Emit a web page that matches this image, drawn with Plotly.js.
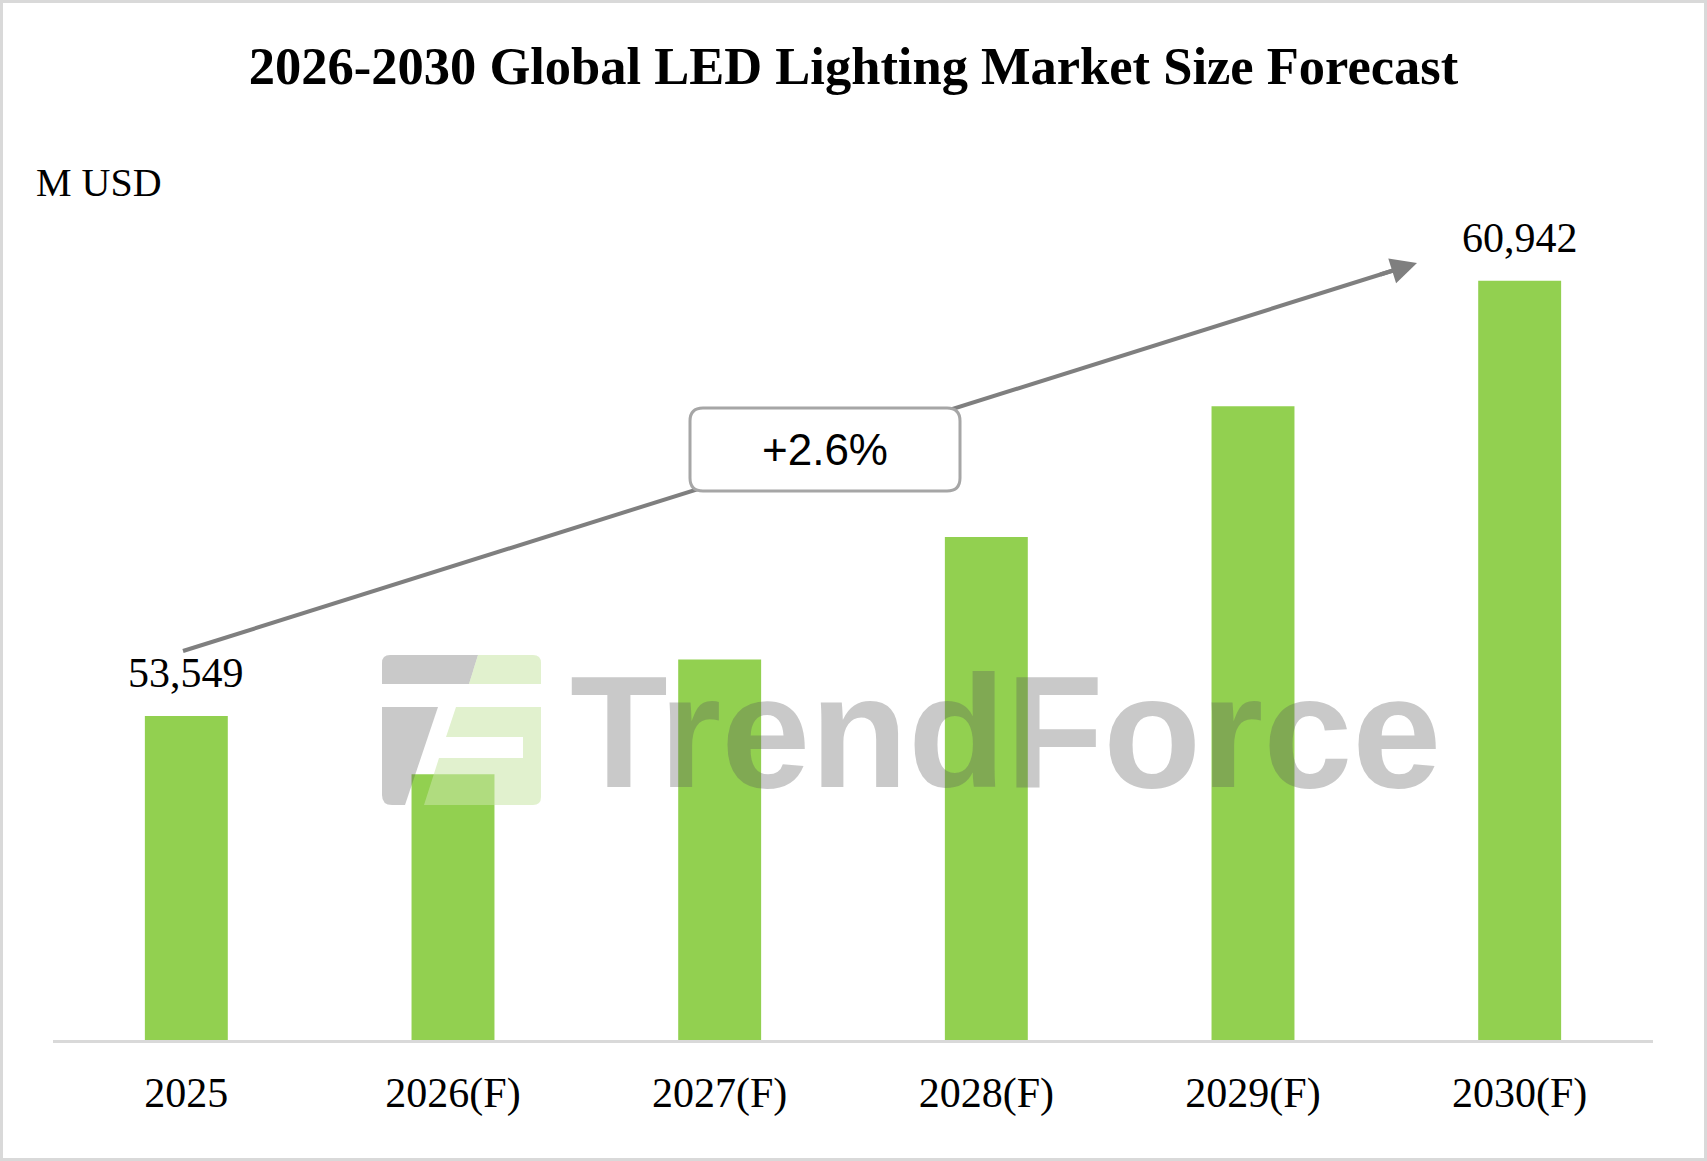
<!DOCTYPE html>
<html>
<head>
<meta charset="utf-8">
<script src="https://cdn.plot.ly/plotly-3.0.1.min.js"></script>
<style>html,body{margin:0;padding:0;background:#fff;}#chart{width:1707px;height:1161px;}</style>
</head>
<body>
<div id="chart"></div>
<script>
// ---- data ----
const categories = ["2025", "2026(F)", "2027(F)", "2028(F)", "2029(F)", "2030(F)"];
const marketSize = [53549, 52560, 54510, 56590, 58810, 60942];
const labelIndex = [0, 5];
const unitLabel = "M USD";
const chartTitle = "2026-2030 Global LED Lighting Market Size Forecast";
const watermark = "TrendForce";

// ---- layout helpers (pixel -> paper) ----
const L = 53, R = 1653, T = 200, B = 1040;
const W = R - L, H = B - T;
const px = x => (x - L) / W;
const py = y => (B - y) / H;
function path(pts) {
  return pts.map(p => {
    if (p[0] === "Z") return "Z";
    const c = [];
    for (let i = 1; i < p.length; i += 2) c.push(px(p[i]) + "," + py(p[i + 1]));
    return p[0] + c.join(" ");
  }).join(" ");
}

const serif = "Liberation Serif, Times New Roman, serif";
const n = marketSize.length;
const cagr = Math.pow(marketSize[n - 1] / marketSize[0], 1 / (n - 1)) - 1;
const cagrText = "+" + (cagr * 100).toFixed(1) + "%";

const trace = {
  type: "bar",
  x: categories,
  y: marketSize,
  marker: { color: "#92d050", line: { width: 0 } },
  hoverinfo: "skip"
};

const grey = "rgba(90,90,90,0.33)";
const lightGreen = "rgba(200,230,165,0.55)";

// arrow geometry (pixels)
const aStart = [183, 651], aTip = [1417, 263];
const dx = aTip[0] - aStart[0], dy = aTip[1] - aStart[1];
const len = Math.hypot(dx, dy);
const ux = dx / len, uy = dy / len;
const lineEnd = [aTip[0] - ux * 20, aTip[1] - uy * 20];

const r = 13; // box corner radius
const bx0 = 690, bx1 = 960, by0 = 408, by1 = 491;

const shapes = [
  { type: "rect", xref: "paper", yref: "paper", x0: px(1.5), x1: px(1705.5), y0: py(1.5), y1: py(1159.5),
    line: { color: "#d9d9d9", width: 3 }, fillcolor: "rgba(0,0,0,0)", layer: "below" },
  { type: "path", xref: "paper", yref: "paper", layer: "above", line: { width: 0 }, fillcolor: grey,
    path: path([["M", 382, 684], ["L", 382, 663], ["Q", 382, 655, 390, 655], ["L", 478, 655], ["L", 469, 684], ["Z"]]) },
  { type: "path", xref: "paper", yref: "paper", layer: "above", line: { width: 0 }, fillcolor: lightGreen,
    path: path([["M", 478, 655], ["L", 533, 655], ["Q", 541, 655, 541, 663], ["L", 541, 684], ["L", 469, 684], ["Z"]]) },
  { type: "path", xref: "paper", yref: "paper", layer: "above", line: { width: 0 }, fillcolor: grey,
    path: path([["M", 382, 707], ["L", 438, 707], ["L", 405, 805], ["L", 392, 805], ["Q", 382, 805, 382, 795], ["Z"]]) },
  { type: "path", xref: "paper", yref: "paper", layer: "above", line: { width: 0 }, fillcolor: lightGreen,
    path: path([["M", 456, 707], ["L", 541, 707], ["L", 541, 797], ["Q", 541, 805, 533, 805], ["L", 424, 805],
                ["L", 439, 758], ["L", 523, 758], ["L", 523, 737], ["L", 446, 737], ["Z"]]) },
  { type: "line", xref: "paper", yref: "paper", layer: "above",
    x0: px(aStart[0]), y0: py(aStart[1]), x1: px(lineEnd[0]), y1: py(lineEnd[1]),
    line: { color: "#7f7f7f", width: 4 } },
  { type: "path", xref: "paper", yref: "paper", layer: "above", fillcolor: "#ffffff",
    line: { color: "#a6a6a6", width: 3 },
    path: path([["M", bx0 + r, by0], ["L", bx1 - r, by0], ["Q", bx1, by0, bx1, by0 + r], ["L", bx1, by1 - r],
                ["Q", bx1, by1, bx1 - r, by1], ["L", bx0 + r, by1], ["Q", bx0, by1, bx0, by1 - r],
                ["L", bx0, by0 + r], ["Q", bx0, by0, bx0 + r, by0], ["Z"]]) }
];

const annotations = [
  { xref: "paper", yref: "paper", x: px(568), y: py(731), xanchor: "left", yanchor: "middle", showarrow: false,
    text: "<b>" + watermark + "</b>", font: { family: "Liberation Sans, Arial, sans-serif", size: 160, color: grey } },
  { xref: "paper", yref: "paper", x: px(aTip[0]), y: py(aTip[1]), ax: -ux * 40, ay: -uy * 40,
    showarrow: true, arrowhead: 2, arrowsize: 1.3, arrowwidth: 4, arrowcolor: "#7f7f7f", text: "" },
  { xref: "paper", yref: "paper", x: px((bx0 + bx1) / 2), y: py((by0 + by1) / 2), xanchor: "center", yanchor: "middle",
    showarrow: false, text: cagrText, font: { family: "Liberation Sans, Arial, sans-serif", size: 44, color: "#000" } },
  { xref: "paper", yref: "paper", x: px(34), y: py(182), xanchor: "left", yanchor: "middle", showarrow: false,
    text: unitLabel, font: { family: serif, size: 40, color: "#000" } }
];
labelIndex.forEach(i => {
  annotations.push({
    x: i, y: marketSize[i], xref: "x", yref: "y", xanchor: "center", yanchor: "bottom",
    yshift: 18, showarrow: false, text: marketSize[i].toLocaleString("en-US"),
    font: { family: serif, size: 42, color: "#000" }
  });
});

const layout = {
  width: 1707, height: 1161,
  margin: { l: L, r: 1707 - R, t: T, b: 1161 - B, pad: 0 },
  paper_bgcolor: "#ffffff", plot_bgcolor: "#ffffff",
  showlegend: false,
  bargap: 0.689,
  title: { text: "<b>" + chartTitle + "</b>", x: 0.5, xanchor: "center", xref: "container",
           y: 1 - 66 / 1161, yanchor: "middle", yref: "container",
           font: { family: serif, size: 52.5, color: "#000" } },
  xaxis: { type: "category", range: [-0.5, categories.length - 0.5], autorange: false,
           showline: true, linecolor: "#d9d9d9", linewidth: 3, showgrid: false, zeroline: false,
           ticks: "", ticklabelstandoff: 14, tickfont: { family: serif, size: 42, color: "#000" } },
  yaxis: { visible: false, range: [48046, 48046 + H * 16.984], autorange: false, showgrid: false, zeroline: false },
  shapes: shapes,
  annotations: annotations
};

Plotly.newPlot("chart", [trace], layout, { displayModeBar: false, staticPlot: true });
</script>
</body>
</html>
